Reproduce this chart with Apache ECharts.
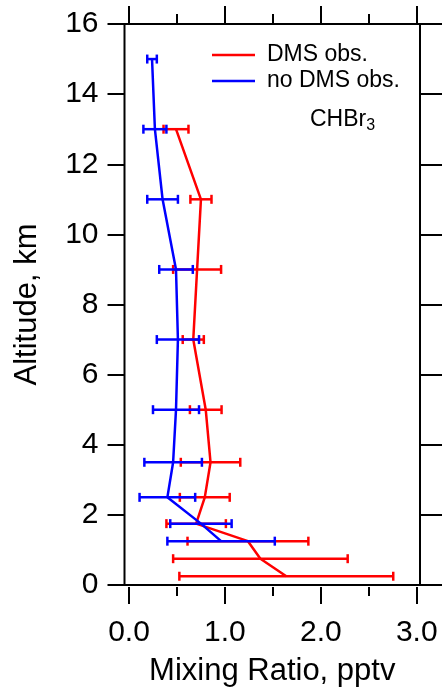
<!DOCTYPE html>
<html>
<head>
<meta charset="utf-8">
<script src="https://cdn.jsdelivr.net/npm/echarts@6/dist/echarts.min.js"></script>
<style>
html, body { margin: 0; padding: 0; background: #fff; }
#chart { width: 442px; height: 692px; }
</style>
</head>
<body>
<div id="chart"></div>
<script>
// DMS obs. profile (altitude km, mean pptv, +/- error)
const dmsAlt = [13, 11, 9, 7, 5, 3.5, 2.5, 1.75, 1.25, 0.75, 0.25]
const dmsMean = [0.49, 0.75, 0.71, 0.67, 0.80, 0.85, 0.79, 0.70, 1.24, 1.37, 1.64]
const dmsErr = [0.13, 0.11, 0.25, 0.11, 0.165, 0.31, 0.26, 0.31, 0.63, 0.91, 1.115]
// no DMS obs. profile
const noDmsAlt = [15, 13, 11, 9, 7, 5, 3.5, 2.5, 1.75, 1.25]
const noDmsMean = [0.24, 0.27, 0.35, 0.49, 0.51, 0.49, 0.46, 0.40, 0.75, 0.96]
const noDmsErr = [0.05, 0.12, 0.16, 0.175, 0.22, 0.24, 0.30, 0.29, 0.32, 0.56]
// tick values
const xMajor = [0, 1, 2, 3]
const xMinor = [0.5, 1.5, 2.5]

const FONT = "'Liberation Sans', Arial, sans-serif"
const RED = '#ff0000'
const BLUE = '#0000ff'
const X_MIN = -0.047
const X_MAX = 3.034

function lineData(alt, mean) {
  return alt.map((a, i) => [mean[i], a])
}
function barData(alt, mean, err) {
  return alt.map((a, i) => [a, mean[i] - err[i], mean[i] + err[i]])
}
// horizontal error bar with end caps
function errorBar(params, api) {
  const y = api.value(0)
  const lo = api.coord([api.value(1), y])
  const hi = api.coord([api.value(2), y])
  const h = 4.5
  const style = { stroke: api.visual('color'), lineWidth: 2.5 }
  return {
    type: 'group',
    children: [
      { type: 'line', shape: { x1: lo[0], y1: lo[1], x2: hi[0], y2: hi[1] }, style },
      { type: 'line', shape: { x1: lo[0], y1: lo[1] - h, x2: lo[0], y2: lo[1] + h }, style },
      { type: 'line', shape: { x1: hi[0], y1: hi[1] - h, x2: hi[0], y2: hi[1] + h }, style }
    ]
  }
}

const tickLine = { color: '#000', width: 2 }
function xAxisDef(position, ticks, len, extra) {
  return Object.assign({
    type: 'value',
    position: position,
    min: X_MIN,
    max: X_MAX,
    axisLine: { show: false, onZero: false },
    splitLine: { show: false },
    axisTick: { show: true, customValues: ticks, length: len, lineStyle: tickLine },
    axisLabel: { show: false }
  }, extra || {})
}

const option = {
  animation: false,
  backgroundColor: '#fff',
  textStyle: { fontFamily: FONT },
  grid: {
    left: 124.5,
    right: 22,
    top: 24,
    bottom: 106,
    show: true,
    borderColor: '#000',
    borderWidth: 2,
    backgroundColor: 'transparent'
  },
  title: {
    text: '{a|CHBr}{b|3}',
    left: 310,
    top: 106,
    padding: 0,
    textStyle: {
      fontWeight: 'normal',
      rich: {
        a: { fontSize: 23, fontFamily: FONT, fontWeight: 'normal', color: '#000', lineHeight: 28 },
        b: { fontSize: 16, fontFamily: FONT, fontWeight: 'normal', color: '#000', lineHeight: 18, verticalAlign: 'bottom' }
      }
    }
  },
  legend: {
    data: ['DMS obs.', 'no DMS obs.'],
    orient: 'vertical',
    left: 212,
    top: 42,
    padding: 0,
    itemGap: 0,
    itemWidth: 43,
    itemHeight: 2.5,
    icon: 'rect',
    selectedMode: false,
    textStyle: { fontSize: 23, fontFamily: FONT, color: '#000', lineHeight: 26, padding: [0, 0, 0, 7] }
  },
  xAxis: [
    xAxisDef('bottom', xMajor, 17, {
      offset: 2,
      axisLabel: {
        show: true,
        customValues: xMajor,
        formatter: (v) => v.toFixed(1),
        fontSize: 30,
        fontFamily: FONT,
        color: '#000',
        margin: 31
      },
      name: 'Mixing Ratio, pptv',
      nameLocation: 'middle',
      nameGap: 69,
      nameTextStyle: { fontSize: 31, fontFamily: FONT, color: '#000' }
    }),
    xAxisDef('bottom', xMinor, 9, { offset: 2 }),
    xAxisDef('top', xMajor, 18),
    xAxisDef('top', xMinor, 10)
  ],
  yAxis: [
    {
      type: 'value',
      position: 'left',
      min: 0,
      max: 16,
      interval: 2,
      axisLine: { show: false, onZero: false },
      splitLine: { show: false },
      axisTick: { show: true, length: 17, lineStyle: tickLine },
      axisLabel: { fontSize: 30, fontFamily: FONT, color: '#000', margin: 26, padding: [6, 0, 0, 0] },
      name: 'Altitude, km',
      nameLocation: 'middle',
      nameGap: 82,
      nameTextStyle: { fontSize: 31, fontFamily: FONT, color: '#000' }
    },
    {
      type: 'value',
      position: 'right',
      min: 0,
      max: 16,
      interval: 2,
      axisLine: { show: false, onZero: false },
      splitLine: { show: false },
      axisTick: { show: true, length: 22, lineStyle: tickLine },
      axisLabel: { show: false }
    }
  ],
  series: [
    {
      name: 'DMS obs.',
      type: 'line',
      data: lineData(dmsAlt, dmsMean),
      symbol: 'none',
      color: RED,
      itemStyle: { color: RED },
      lineStyle: { color: RED, width: 2.5 },
      z: 3
    },
    {
      name: 'DMS obs. err',
      type: 'custom',
      renderItem: errorBar,
      data: barData(dmsAlt, dmsMean, dmsErr),
      encode: { x: [1, 2], y: 0 },
      itemStyle: { color: RED },
      z: 3
    },
    {
      name: 'no DMS obs.',
      type: 'line',
      data: lineData(noDmsAlt, noDmsMean),
      symbol: 'none',
      color: BLUE,
      itemStyle: { color: BLUE },
      lineStyle: { color: BLUE, width: 2.5 },
      z: 4
    },
    {
      name: 'no DMS obs. err',
      type: 'custom',
      renderItem: errorBar,
      data: barData(noDmsAlt, noDmsMean, noDmsErr),
      encode: { x: [1, 2], y: 0 },
      itemStyle: { color: BLUE },
      z: 4
    }
  ]
}

const chart = echarts.init(document.getElementById('chart'), null, { renderer: 'canvas' })
chart.setOption(option)
</script>
</body>
</html>
